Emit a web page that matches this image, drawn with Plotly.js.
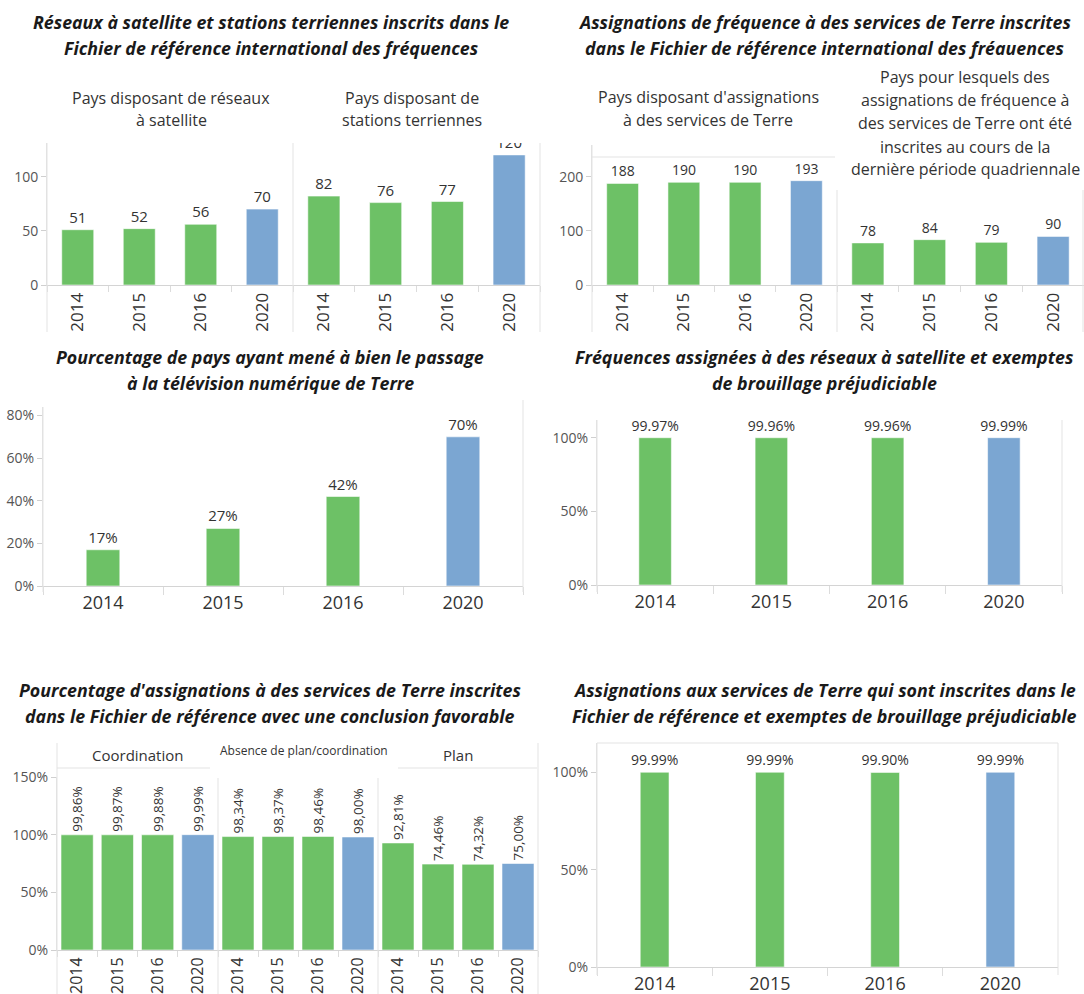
<!DOCTYPE html>
<html><head><meta charset="utf-8">
<script src="https://cdn.plot.ly/plotly-3.0.1.min.js"></script>
<style>html,body{margin:0;padding:0;background:#fff}#chart{width:1084px;height:994px}</style>
</head><body><div id="chart"></div>
<script>
// ---- data ----
const years = ['2014', '2015', '2016', '2020'];
const satNetworkCountries = [51, 52, 56, 70];
const earthStationCountries = [82, 76, 77, 120];
const terrestrialCountries = [188, 190, 190, 193];
const terrestrialRecentCountries = [78, 84, 79, 90];
const dttTransitionPct = [0.17, 0.27, 0.42, 0.70];
const satFreqNoInterference = [0.9997, 0.9996, 0.9996, 0.9999];
const favCoordination = [0.9986, 0.9987, 0.9988, 0.9999];
const favNoPlan = [0.9834, 0.9837, 0.9846, 0.9800];
const favPlan = [0.9281, 0.7446, 0.7432, 0.7500];
const terrNoInterference = [0.9999, 0.9999, 0.9990, 0.9999];

// ---- styling ----
const W = 1084, H = 994;
const GREEN = '#6dc166', BLUE = '#7ba6d2';
const FONT = 'Open Sans, Noto Sans, sans-serif';
const fx = p => p / W, fy = p => 1 - p / H;
const traces = [];
const layout = {
  width: W, height: H, margin: {l: 0, r: 0, t: 0, b: 0},
  paper_bgcolor: '#fff', plot_bgcolor: 'rgba(0,0,0,0)',
  showlegend: false, font: {family: FONT, color: '#444'},
  annotations: [], shapes: []
};

function addPanel(i, vals, o) {
  const xs = i === 1 ? '' : String(i);
  const xa = 'x' + xs, ya = 'y' + xs;
  const t = {
    type: 'bar', x: years, y: vals, xaxis: xa, yaxis: ya, width: o.bw,
    marker: {color: years.map(y => y === '2020' ? BLUE : GREEN), line: {color: 'rgba(255,255,255,0.55)', width: 1}},
    textposition: 'outside', cliponaxis: true, hoverinfo: 'skip',
    textfont: {family: FONT, size: o.ts || 14, color: '#333'}, textangle: o.textangle || 0,
    constraintext: 'none'
  };
  if (o.textFn) t.text = vals.map(o.textFn); else t.texttemplate = o.tt;
  traces.push(t);
  layout['xaxis' + xs] = {
    domain: [fx(o.x[0]), fx(o.x[1])], anchor: ya, type: 'category',
    tickson: 'boundaries', ticks: 'outside', ticklen: o.tl || 6, tickcolor: '#dcdcdc',
    showline: true, linecolor: '#d4d4d4', linewidth: 1, showgrid: false, zeroline: false,
    tickangle: o.rot ? -90 : 0, tickfont: {family: FONT, size: o.xfs || 17, color: '#333'},
    fixedrange: true
  };
  layout['yaxis' + xs] = {
    domain: [fy(o.y[1]), fy(o.y[0])], anchor: xa, range: o.range, dtick: o.dtick,
    tickformat: o.fmt || '', showticklabels: !!o.showY, ticks: o.showY ? 'outside' : '',
    ticklen: 5, tickcolor: '#d0d0d0', showline: !!o.showY, linecolor: '#e2e2e2',
    showgrid: false, zeroline: false, tickfont: {family: FONT, size: 14, color: '#555'},
    fixedrange: true
  };
}

// Panel 1: satellite networks & earth stations
addPanel(1, satNetworkCountries, {x: [47, 293], y: [143, 285], range: [0, 131], dtick: 50, showY: true, rot: true, bw: 0.52, tt: '%{y}', ts: 15});
addPanel(2, earthStationCountries, {x: [293, 540], y: [143, 285], range: [0, 131], dtick: 50, rot: true, bw: 0.52, tt: '%{y}', ts: 15});
// Panel 2: terrestrial services
addPanel(3, terrestrialCountries, {x: [592, 837], y: [145, 285], range: [0, 259], dtick: 100, showY: true, rot: true, bw: 0.52, tt: '%{y}', ts: 14});
addPanel(4, terrestrialRecentCountries, {x: [837, 1084], y: [190, 285], range: [0, 176], dtick: 100, rot: true, bw: 0.52, tt: '%{y}', ts: 14});
// Panel 3: DTT transition
addPanel(5, dttTransitionPct, {x: [43, 523], y: [407, 586], range: [0, 0.84], dtick: 0.2, fmt: '.0%', showY: true, bw: 0.28, tt: '%{y:.0%}', ts: 15, xfs: 18, tl: 8});
// Panel 4: satellite freq without interference
addPanel(6, satFreqNoInterference, {x: [597, 1062], y: [420, 585], range: [0, 1.12], dtick: 0.5, fmt: '.0%', showY: true, bw: 0.28, tt: '%{y:.2%}', ts: 14, xfs: 18, tl: 8});
// Panel 5: favourable findings
const commaPct = v => (v * 100).toFixed(2).replace('.', ',') + '%';
addPanel(7, favCoordination, {x: [57, 218], y: [777, 950], range: [0, 1.5], dtick: 0.5, fmt: '.0%', showY: true, rot: true, bw: 0.8, textFn: commaPct, textangle: -90, ts: 13.5, xfs: 16});
addPanel(8, favNoPlan, {x: [218, 378], y: [777, 950], range: [0, 1.5], dtick: 0.5, rot: true, bw: 0.8, textFn: commaPct, textangle: -90, ts: 13.5, xfs: 16});
addPanel(9, favPlan, {x: [378, 538], y: [777, 950], range: [0, 1.5], dtick: 0.5, rot: true, bw: 0.8, textFn: commaPct, textangle: -90, ts: 13.5, xfs: 16});
// Panel 6: terrestrial without interference
addPanel(10, terrNoInterference, {x: [597, 1058], y: [743, 967], range: [0, 1.15], dtick: 0.5, fmt: '.0%', showY: true, bw: 0.25, tt: '%{y:.2%}', ts: 14, xfs: 18, tl: 8});

// ---- text ----
function ann(text, x, y, size, opts) {
  layout.annotations.push(Object.assign({
    text: text, x: fx(x), y: fy(y), xref: 'paper', yref: 'paper', showarrow: false,
    xanchor: 'center', yanchor: 'middle', font: {family: FONT, size: size, color: '#222'}
  }, opts || {}));
}
const TS = 17.8;
const title = (t, x, y) => ann('<b><i>' + t + '</i></b>', x, y, TS, {font: {family: FONT, size: TS, color: '#1a1a1a'}});
title('Réseaux à satellite et stations terriennes inscrits dans le', 271, 22);
title('Fichier de référence international des fréquences', 271, 48);
title('Assignations de fréquence à des services de Terre inscrites', 824, 22);
title('dans le Fichier de référence international des fréauences', 824, 48);
title('Pourcentage de pays ayant mené à bien le passage', 270, 357);
title('à la télévision numérique de Terre', 270, 383);
title('Fréquences assignées à des réseaux à satellite et exemptes', 824, 357);
title('de brouillage préjudiciable', 824, 383);
title("Pourcentage d'assignations à des services de Terre inscrites", 270, 690);
title('dans le Fichier de référence avec une conclusion favorable', 270, 716);
title('Assignations aux services de Terre qui sont inscrites dans le', 824, 690);
title('Fichier de référence et exemptes de brouillage préjudiciable', 824, 716);

const sub = (t, x, y, s) => ann(t, x, y, s || 16, {font: {family: FONT, size: s || 16, color: '#333'}});
sub('Pays disposant de réseaux', 171, 98); sub('à satellite', 171, 120);
sub('Pays disposant de', 412, 98); sub('stations terriennes', 412, 120);
sub("Pays disposant d'assignations", 708, 97); sub('à des services de Terre', 708, 120);
sub('Pays pour lesquels des', 965, 77);
sub('assignations de fréquence à', 965, 100);
sub('des services de Terre ont été', 965, 123);
sub('inscrites au cours de la', 965, 147);
sub('dernière période quadriennale', 965, 169);
sub('Coordination', 137, 755, 15);
sub('Absence de plan/coordination', 304, 750, 12);
sub('Plan', 458, 755, 15);

// ---- separators & header lines ----
function line(x0, y0, x1, y1, c) {
  layout.shapes.push({type: 'line', xref: 'paper', yref: 'paper', x0: fx(x0), y0: fy(y0), x1: fx(x1), y1: fy(y1), line: {color: c || '#e3e3e3', width: 1}});
}
line(47, 143, 47, 332); line(293, 143, 293, 332); line(540, 143, 540, 332);
line(592, 145, 592, 332); line(837, 190, 837, 332); line(592, 157, 835, 157);
line(1083, 190, 1083, 332);
line(43, 407, 43, 592); line(523, 400, 523, 592);
line(597, 420, 597, 592); line(1062, 420, 1062, 592);
line(57, 743, 57, 994); line(218, 778, 218, 994); line(378, 778, 378, 994); line(538, 743, 538, 994);
line(57, 768, 210, 768); line(398, 768, 537, 768);
line(597, 743, 597, 975); line(1058, 743, 1058, 975); line(597, 743, 1058, 743);

Plotly.newPlot('chart', traces, layout, {staticPlot: true, displayModeBar: false});
</script></body></html>
